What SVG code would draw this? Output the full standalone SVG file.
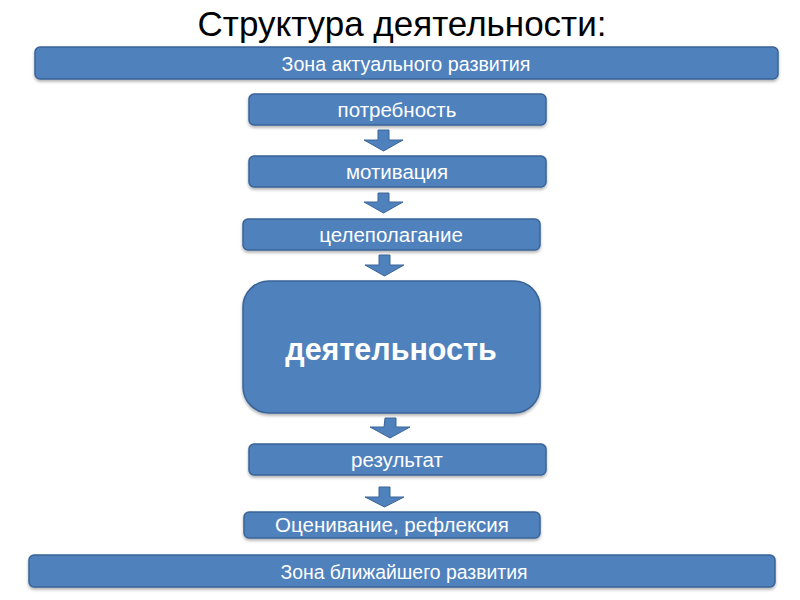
<svg xmlns="http://www.w3.org/2000/svg" width="800" height="600" viewBox="0 0 800 600">
<defs>
<filter id="sh" x="-5%" y="-20%" width="110%" height="150%">
<feDropShadow dx="0" dy="2" stdDeviation="1.5" flood-color="#000" flood-opacity="0.3"/>
</filter>
</defs>
<style>
.box{fill:#4F81BD;stroke:#3A6496;stroke-width:1.5;filter:url(#sh)}
.arr{fill:#4F81BD;stroke:#3A6496;stroke-width:1}
.t{font-family:"Liberation Sans",Arial,sans-serif;fill:#fff;text-anchor:middle;font-size:20.5px}
.title{font-family:"Liberation Sans",Arial,sans-serif;fill:#000;text-anchor:middle;font-size:35px}
</style>
<rect width="800" height="600" fill="#fff"/>
<text class="title" x="402" y="36">Структура деятельности:</text>
<g id="zone1"><rect class="box" x="35" y="47" width="743" height="32" rx="5"/><text class="t" x="406" y="71" textLength="249" lengthAdjust="spacingAndGlyphs">Зона актуального развития</text></g>
<g id="n1"><rect class="box" x="249" y="94" width="297" height="31" rx="5"/><text class="t" x="397" y="117">потребность</text></g>
<g id="n2"><rect class="box" x="249" y="156" width="297" height="31" rx="5"/><text class="t" x="397" y="179">мотивация</text></g>
<g id="n3"><rect class="box" x="243" y="219" width="297" height="31" rx="5"/><text class="t" x="391" y="242">целеполагание</text></g>
<g id="n4"><rect class="box" x="243" y="281" width="297" height="132" rx="26"/><text class="t" x="391" y="360" style="font-weight:bold;font-size:30.5px">деятельность</text></g>
<g id="n5"><rect class="box" x="249" y="444" width="297" height="31" rx="5"/><text class="t" x="397" y="467">результат</text></g>
<g id="n6"><rect class="box" x="244" y="512" width="296" height="26" rx="5"/><text class="t" x="392" y="532">Оценивание, рефлексия</text></g>
<g id="zone2"><rect class="box" x="29" y="555" width="746" height="32" rx="5"/><text class="t" x="404" y="579" textLength="247" lengthAdjust="spacingAndGlyphs">Зона ближайшего развития</text></g>
<g id="connectors">
<path class="arr" d="M378,130 h11 v10 h14 l-19.5,11 l-19.5,-11 h14 z"/>
<path class="arr" d="M378,193 h11 v9 h14 l-19.5,11 l-19.5,-11 h14 z"/>
<path class="arr" d="M379,255 h11 v10 h14 l-19.5,11 l-19.5,-11 h14 z"/>
<path class="arr" d="M385,418 h11 v9 h14 l-20,11 l-20,-11 h14 z"/>
<path class="arr" d="M379,487 h11 v10 h14 l-19.5,10 l-19.5,-10 h14 z"/>
</g>
</svg>
